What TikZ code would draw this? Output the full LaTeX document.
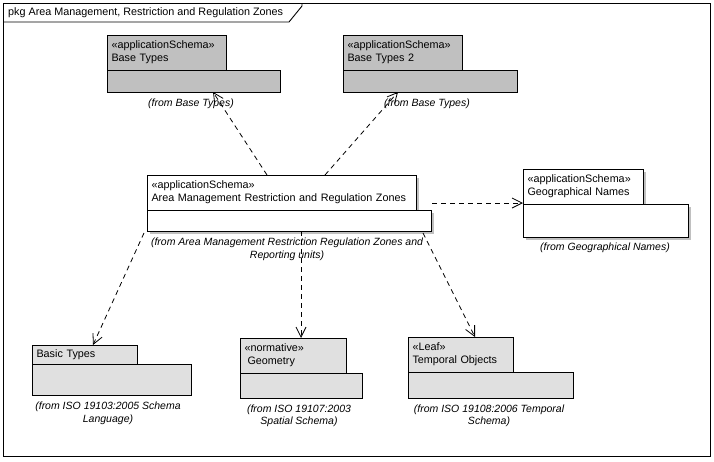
\documentclass[tikz,border=0pt]{standalone}
\usepackage{fontspec}
\setmainfont{Liberation Sans}
\usetikzlibrary{arrows.meta,shadows}
\definecolor{pkgdark}{HTML}{C0C0C0}
\definecolor{pkglight}{HTML}{E0E0E0}
\definecolor{shadowgray}{HTML}{C0C0C0}
\begin{document}
\begin{tikzpicture}[x=1pt,y=-1pt, font=\fontsize{10.8pt}{13pt}\selectfont,
 tabbox/.style={draw=black, line width=0.9pt, anchor=north west, inner xsep=4.5pt, inner ysep=0pt, align=left, outer sep=0pt},
 bodybox/.style={draw=black, line width=0.9pt, anchor=north west, inner sep=0pt, outer sep=0pt},
 shad/.style={drop shadow={shadow xshift=3pt, shadow yshift=-3pt, fill=shadowgray, opacity=1}},
 fromlbl/.style={font=\fontsize{10.5pt}{12.5pt}\selectfont\itshape, align=center, inner sep=0pt},
 dep/.style={draw=black, line width=0.8pt, dash pattern=on 5pt off 4pt, -{Straight Barb[length=10pt,width=10pt]}}
]
\useasboundingbox (0,0) rectangle (714,461);
\fill[white] (0,0) rectangle (714,461);
% frame
\draw[line width=0.9pt] (3,3) rectangle (710,456);
\node[anchor=west, inner sep=0pt] (title) at (8,12.5) {pkg Area Management, Restriction and Regulation Zones};
\draw[line width=0.9pt] (3,22) -- (289,22) -- (302,6) -- (302,3);

% Base Types
\node[tabbox, fill=pkgdark, minimum width=119pt, minimum height=35pt, text width=110pt] (bttab) at (107,35) {«applicationSchema»\\Base Types};
\node[bodybox, fill=pkgdark, minimum width=173pt, minimum height=22pt] (btbody) at (107,70) {};
\node[fromlbl] (btfrom) at (191,103.5) {(from Base Types)};

% Base Types 2
\node[tabbox, fill=pkgdark, minimum width=119pt, minimum height=35pt, text width=110pt] (bt2tab) at (343,35) {«applicationSchema»\\Base Types 2};
\node[bodybox, fill=pkgdark, minimum width=174pt, minimum height=22pt] (bt2body) at (343,70) {};
\node[fromlbl] (bt2from) at (427,103.5) {(from Base Types)};

% Main
\node[tabbox, shad, fill=white, minimum width=269pt, minimum height=35pt, text width=260pt] (maintab) at (147,175) {«applicationSchema»\\Area Management Restriction and Regulation Zones};
\node[bodybox, shad, fill=white, minimum width=284pt, minimum height=21pt] (mainbody) at (147,210) {};
\node[fromlbl] (mainfrom) at (287,249.5) {(from Area Management Restriction Regulation Zones and\\Reporting units)};

% Geographical Names
\node[tabbox, shad, fill=white, minimum width=120pt, minimum height=35pt, text width=111pt] (geotab) at (523,169) {«applicationSchema»\\Geographical Names};
\node[bodybox, shad, fill=white, minimum width=165pt, minimum height=33pt] (geobody) at (523,204) {};
\node[fromlbl] (geofrom) at (605,247.5) {(from Geographical Names)};

% Basic Types
\node[tabbox, fill=pkglight, minimum width=105pt, minimum height=19pt, text width=96pt] (bastab) at (32,345) {Basic Types};
\node[bodybox, fill=pkglight, minimum width=159pt, minimum height=31pt] (basbody) at (32,364) {};
\node[fromlbl] (basfrom) at (108,413.5) {(from ISO 19103:2005 Schema\\Language)};

% Geometry
\node[tabbox, fill=pkglight, minimum width=106pt, minimum height=35pt, text width=97pt] (geomtab) at (240,338) {«normative»\\\hspace*{3pt}Geometry};
\node[bodybox, fill=pkglight, minimum width=122pt, minimum height=25pt] (geombody) at (240,373) {};
\node[fromlbl] (geomfrom) at (299,416) {(from ISO 19107:2003\\Spatial Schema)};

% Temporal Objects
\node[tabbox, fill=pkglight, minimum width=105pt, minimum height=35pt, text width=96pt] (temptab) at (408,337) {«Leaf»\\Temporal Objects};
\node[bodybox, fill=pkglight, minimum width=165pt, minimum height=26pt] (tempbody) at (408,372) {};
\node[fromlbl] (tempfrom) at (489,416) {(from ISO 19108:2006 Temporal\\Schema)};

% dependencies
\draw[dep] ([xshift=120pt]maintab.north west) -- ([xshift=106pt]btbody.south west);
\draw[dep] ([xshift=178pt]maintab.north west) -- ([xshift=55pt]bt2body.south west);
\draw[dep] ([xshift=1pt,yshift=7pt]mainbody.north east) -- ([yshift=1pt]geotab.south west);
\draw[dep] ([xshift=-3pt,yshift=-2pt]mainbody.south west) -- ([xshift=61pt]bastab.north west);
\draw[dep] ([xshift=154pt]mainbody.south west) -- ([xshift=61pt]geomtab.north west);
\draw[dep] ([xshift=276pt,yshift=-2pt]mainbody.south west) -- ([xshift=67pt]temptab.north west);
\end{tikzpicture}
\end{document}
